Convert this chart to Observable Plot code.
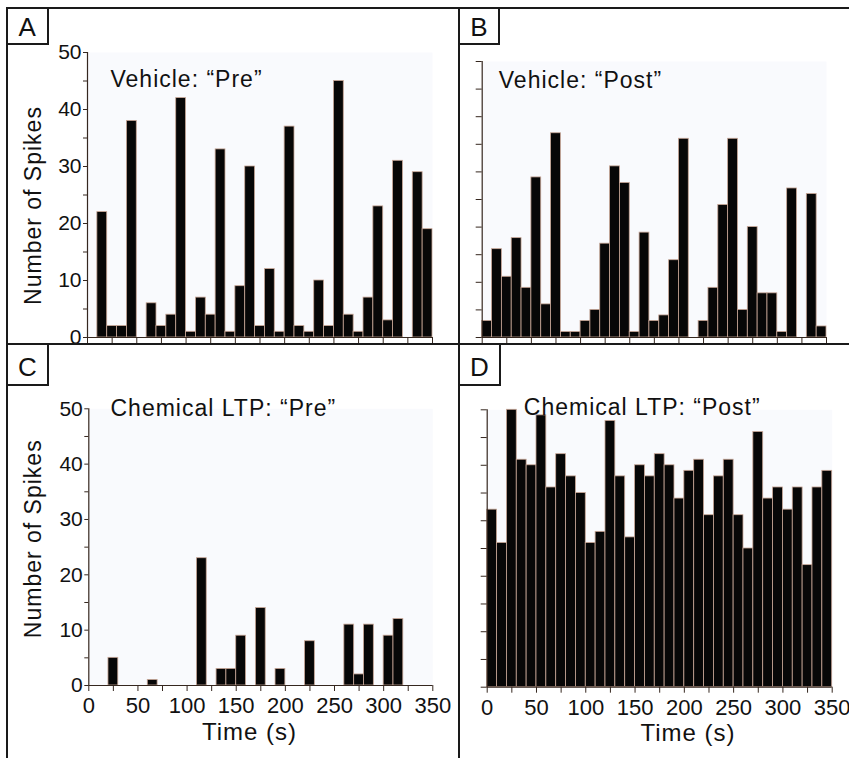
<!DOCTYPE html>
<html>
<head>
<meta charset="utf-8">
<script src="https://cdn.jsdelivr.net/npm/d3@7"></script>
<script src="https://cdn.jsdelivr.net/npm/@observablehq/plot@0.6"></script>
<style>
html, body { margin: 0; padding: 0; background: #fff; }
#fig { position: relative; width: 849px; height: 758px; overflow: hidden; font-family: "Liberation Sans", Arial, sans-serif; }
.panel { position: absolute; }
.line { position: absolute; background: #1a1a1a; }
.tag { position: absolute; box-sizing: border-box; border: 2px solid #1a1a1a; background: #fff; font-size: 26px; display: flex; align-items: center; justify-content: center; line-height: 1; color: #111; }
</style>
</head>
<body>
<div id="fig"></div>
<script>
// ---- data (10 s bins, bin start times in seconds) ----
const binStarts = [0,10,20,30,40,50,60,70,80,90,100,110,120,130,140,150,160,170,180,190,200,210,220,230,240,250,260,270,280,290,300,310,320,330,340];
const vehiclePre  = [0,22,2,2,38,0,6,2,4,42,1,7,4,33,1,9,30,2,12,1,37,2,1,10,2,45,4,1,7,23,3,31,0,29,19];
const vehiclePost = [3,16,11,18,9,29,6,37,1,1,3,5,17,31,28,1,19,3,4,14,36,0,3,9,24,36,5,20,8,8,1,27,0,26,2];
const chemPre     = [0,0,5,0,0,0,1,0,0,0,0,23,0,3,3,9,0,14,0,3,0,0,8,0,0,0,11,2,11,0,9,12,0,0,0];
const chemPost    = [32,26,50,41,40,49,36,42,38,35,26,28,48,38,27,40,38,42,40,34,39,41,31,38,41,31,25,46,34,36,32,36,22,36,39];
const xTicks = [0,25,50,75,100,125,150,175,200,225,250,275,300,325,350];
const yTicks = [0,5,10,15,20,25,30,35,40,45,50];
const panelTags = ["A", "B", "C", "D"];
const panelTitles = ["Vehicle: \u201cPre\u201d", "Vehicle: \u201cPost\u201d", "Chemical LTP: \u201cPre\u201d", "Chemical LTP: \u201cPost\u201d"];
const yTitle = "Number of Spikes";
const xTitle = "Time (s)";

const axisColor = "#35271f";
const fig = document.getElementById("fig");

function makePanel(cfg) {
  const data = binStarts.map((t, i) => ({t0: t, t1: t + 10, n: cfg.values[i]})).filter(d => d.n > 0);
  const marks = [
    Plot.frame({fill: "#f9fafd", stroke: "none"}),
    Plot.rectY(data, {x1: "t0", x2: "t1", y: "n", fill: "#070707", stroke: "#c9a797", strokeWidth: 0.8}),
    Plot.ruleY([0], {stroke: axisColor, strokeWidth: 1.2}),
    Plot.ruleX([0], {stroke: axisColor, strokeWidth: 1.2}),
    Plot.axisX({ticks: xTicks, tickSize: 6, tickPadding: 6, fontSize: 22, stroke: axisColor, fill: "#111",
      tickFormat: cfg.xLabels ? (d => d % 50 === 0 ? String(d) : "") : (() => ""), label: null}),
    Plot.axisY({ticks: yTicks, tickSize: cfg.yLabels ? 4 : 6, tickPadding: 2, fontSize: 21, stroke: axisColor, fill: "#111",
      tickFormat: cfg.yLabels ? (d => d % 10 === 0 ? String(d) : "") : (() => ""), label: null}),
    Plot.text([cfg.title], {text: d => d, frameAnchor: "top-left", textAnchor: "start", lineAnchor: "middle",
      dx: cfg.titleDx, dy: cfg.titleDy, fontSize: 23, fill: "#111"})
  ];
  if (cfg.yLabels) {
    marks.push(Plot.text([yTitle], {text: d => d, frameAnchor: "left", rotate: -90, textAnchor: "middle", lineAnchor: "middle",
      dx: cfg.ylabDx, dy: cfg.ylabDy, fontSize: 23, fill: "#111"}));
  }
  if (cfg.xLabels) {
    marks.push(Plot.text([xTitle], {text: d => d, frameAnchor: "bottom", textAnchor: "middle", lineAnchor: "middle",
      dx: cfg.xlabDx, dy: cfg.xlabDy, fontSize: 24, fill: "#111"}));
  }
  const svg = Plot.plot({
    width: cfg.width, height: cfg.height,
    marginLeft: cfg.ml, marginRight: cfg.mr, marginTop: cfg.mt, marginBottom: cfg.mb,
    x: {domain: [0, 350]},
    y: {domain: [0, 50]},
    style: {background: "transparent", overflow: "visible", fontFamily: "'Liberation Sans', Arial, sans-serif"},
    marks
  });
  d3.select(svg).selectAll('g[aria-label="text"] text').style("letter-spacing", "1px");
  const div = document.createElement("div");
  div.className = "panel";
  div.style.left = cfg.left + "px";
  div.style.top = cfg.top + "px";
  div.appendChild(svg);
  fig.appendChild(div);
}

makePanel({values: vehiclePre, title: panelTitles[0], left: 0, top: 0, width: 459, height: 344,
  ml: 87, mr: 27, mt: 52, mb: 7, xLabels: false, yLabels: true,
  titleDx: 23, titleDy: 27.5, ylabDx: -54, ylabDy: 10.5});
makePanel({values: vehiclePost, title: panelTitles[1], left: 459, top: 0, width: 390, height: 344,
  ml: 22.7, mr: 23, mt: 61, mb: 7, xLabels: false, yLabels: false,
  titleDx: 16.6, titleDy: 19});
makePanel({values: chemPre, title: panelTitles[2], left: 0, top: 344, width: 459, height: 414,
  ml: 88.3, mr: 26.7, mt: 64.3, mb: 73, xLabels: true, yLabels: true,
  titleDx: 21.7, titleDy: -0.3, ylabDx: -55.3, ylabDy: -8.4, xlabDx: -11.3, xlabDy: 46.5});
makePanel({values: chemPost, title: panelTitles[3], left: 459, top: 344, width: 390, height: 414,
  ml: 27.7, mr: 17.3, mt: 65.3, mb: 71.3, xLabels: true, yLabels: false,
  titleDx: 36.6, titleDy: -2.3, xlabDx: 28.3, xlabDy: 45.8});

// frame lines
function line(l, t, w, h) {
  const d = document.createElement("div");
  d.className = "line";
  Object.assign(d.style, {left: l + "px", top: t + "px", width: w + "px", height: h + "px"});
  fig.appendChild(d);
}
line(6, 7, 843, 2);
line(6, 7, 2, 751);
line(6, 343, 843, 2);
line(458, 7, 2, 751);

// panel tags
const tagBoxes = [
  {l: 6, t: 7, w: 42.5, h: 38, pt: 1},
  {l: 458, t: 7, w: 42, h: 38, pt: 1},
  {l: 6, t: 343, w: 43, h: 43, pt: 5},
  {l: 458, t: 343, w: 43, h: 43, pt: 5}
];
tagBoxes.forEach((b, i) => {
  const d = document.createElement("div");
  d.className = "tag";
  Object.assign(d.style, {left: b.l + "px", top: b.t + "px", width: b.w + "px", height: b.h + "px", paddingTop: b.pt + "px"});
  d.textContent = panelTags[i];
  fig.appendChild(d);
});
</script>
</body>
</html>
